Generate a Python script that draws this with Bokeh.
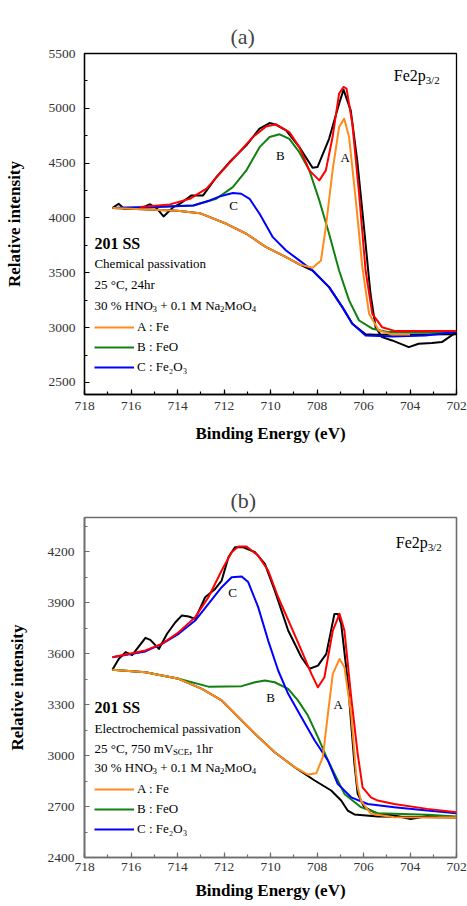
from bokeh.plotting import figure
from bokeh.models import Range1d, SingleIntervalTicker, Label, Legend, LegendItem
from bokeh.layouts import column
from bokeh.embed import file_html
from bokeh.resources import INLINE

FONT = "Liberation Serif"

# ---------------- Panel (a) data: Chemical passivation ----------------
a_raw_E = [716.8, 716.53, 716.3, 715.6, 715.18, 714.9, 714.6, 714.18, 713.89, 713.4, 712.9, 712.33,
           711.76, 711.04, 710.47, 710.04, 709.76, 709.33, 708.76, 708.19, 707.98, 707.48, 707.05,
           706.86, 706.55, 706.27, 705.98, 705.7, 705.48, 705.2, 704.77, 704.05, 703.63, 703.06,
           702.63, 702.0]
a_raw_I = [4090, 4130, 4085, 4085, 4125, 4090, 4014, 4099, 4130, 4206, 4206, 4373,
           4510, 4662, 4815, 4866, 4850, 4799, 4646, 4458, 4464, 4722, 5042,
           5170, 4981, 4525, 3916, 3309, 3004, 2913, 2883, 2822, 2853, 2859,
           2868, 2959]

a_bg_E = [716.8, 715.0, 714.0, 713.04, 711.9, 711.04, 710.19, 709.33, 708.76, 708.19, 707.48,
          706.91, 706.48, 705.91, 705.5, 702.0]
a_bg_I = [4090, 4075, 4065, 4044, 3947, 3856, 3734, 3643, 3576, 3521, 3369,
          3187, 3035, 2940, 2935, 2940]

a_fit_E = [715.6, 714.32, 713.47, 712.75, 712.18, 711.47, 710.76, 710.19, 709.76, 709.19, 708.76,
           708.33, 707.9, 707.62, 707.33, 707.05, 706.86, 706.73, 706.48, 706.19, 705.91, 705.62,
           705.2, 704.63, 703.5, 702.0]
a_fit_I = [4100, 4124, 4175, 4267, 4404, 4571, 4738, 4835, 4854, 4783, 4646,
           4434, 4343, 4434, 4738, 5134, 5195, 5180, 4860, 4221, 3521, 3126,
           3004, 2968, 2968, 2968]

a_fe_E = [716.8, 715.0, 714.0, 713.04, 711.9, 711.04, 710.19, 709.33, 708.76, 708.19, 707.83,
          707.62, 707.33, 707.05, 706.83, 706.62, 706.33, 706.05, 705.76, 705.34, 704.77, 704.0]
a_fe_I = [4090, 4075, 4065, 4044, 3947, 3856, 3734, 3643, 3576, 3546, 3613,
          3916, 4434, 4829, 4906, 4738, 4160, 3552, 3126, 2974, 2937, 2937]

a_feo_E = [716.8, 715.0, 713.32, 712.33, 711.62, 711.04, 710.47, 710.04, 709.61, 709.19, 708.76,
           708.33, 707.9, 707.48, 707.05, 706.62, 706.19, 705.62, 704.91, 702.0]
a_feo_I = [4090, 4100, 4114, 4175, 4281, 4434, 4646, 4738, 4763, 4722, 4600,
           4434, 4160, 3856, 3521, 3248, 3065, 2990, 2959, 2959]

a_fe2o3_E = [716.8, 715.0, 713.32, 712.61, 712.18, 711.62, 711.26, 710.9, 710.47, 709.9, 709.33,
             708.76, 708.19, 707.48, 706.91, 706.48, 705.91, 704.77, 703.34, 702.0]
a_fe2o3_I = [4090, 4100, 4114, 4160, 4197, 4227, 4221, 4175, 4038, 3825, 3704,
             3613, 3521, 3369, 3187, 3035, 2928, 2919, 2928, 2959]

# ---------------- Panel (b) data: Electrochemical passivation ----------------
b_raw_E = [716.8, 716.52, 716.23, 715.95, 715.38, 715.17, 714.8, 714.45, 714.09, 713.81, 713.52,
           713.24, 712.81, 712.38, 712.1, 711.81, 711.53, 711.17, 710.67, 710.24, 709.82, 709.24,
           708.67, 708.32, 707.96, 707.6, 707.25, 707.1, 706.96, 706.68, 706.39, 706.25, 705.97,
           705.39, 704.68, 703.97, 703.11, 702.8]
b_raw_I = [3504, 3569, 3608, 3590, 3692, 3680, 3627, 3716, 3784, 3824, 3818,
           3804, 3931, 3980, 4029, 4166, 4225, 4225, 4196, 4127, 3971, 3735,
           3578, 3510, 3529, 3598, 3833, 3833, 3774, 3441, 2951, 2774, 2696,
           2657, 2647, 2627, 2647, 2640]

b_bg_E = [716.8, 715.38, 713.95, 712.95, 712.1, 711.38, 710.67, 709.82, 708.96, 708.1, 707.39,
          706.96, 706.68, 706.39, 705.39, 702.0]
b_bg_I = [3504, 3490, 3451, 3392, 3324, 3225, 3128, 3019, 2931, 2853, 2794,
          2735, 2676, 2653, 2641, 2635]

b_fit_E = [716.8, 715.38, 714.67, 713.95, 713.24, 712.67, 712.1, 711.67, 711.38, 711.03, 710.53,
           710.1, 709.67, 709.1, 708.67, 708.24, 707.96, 707.68, 707.32, 707.03, 706.82, 706.53,
           706.25, 706.04, 705.68, 705.39, 704.68, 703.26, 702.0]
b_fit_I = [3578, 3618, 3657, 3725, 3814, 3931, 4088, 4196, 4229, 4229, 4176,
           4088, 3931, 3754, 3618, 3480, 3401, 3460, 3735, 3833, 3735, 3343,
           3010, 2813, 2754, 2735, 2715, 2686, 2666]

b_fe_E = [716.8, 715.38, 713.95, 712.95, 712.1, 711.38, 710.67, 709.82, 708.96, 708.39, 708.03,
          707.75, 707.53, 707.32, 707.03, 706.82, 706.53, 706.32, 706.25, 706.11, 705.68, 704.68, 702.0]
b_fe_I = [3504, 3490, 3451, 3392, 3324, 3225, 3128, 3019, 2931, 2888, 2896,
          2990, 3245, 3480, 3568, 3519, 3245, 2892, 2813, 2735, 2657, 2637, 2635]

b_feo_E = [716.8, 715.38, 713.95, 712.67, 711.24, 710.67, 710.24, 709.82, 709.24, 708.82, 708.39,
           707.96, 707.53, 706.82, 706.11, 705.39, 703.26, 702.0]
b_feo_I = [3504, 3490, 3451, 3405, 3408, 3431, 3441, 3431, 3392, 3324, 3235,
           3108, 2971, 2774, 2696, 2660, 2651, 2641]

b_fe2o3_E = [716.8, 715.38, 714.67, 713.95, 713.24, 712.67, 712.1, 711.67, 711.24, 710.96, 710.53,
             710.1, 709.67, 709.24, 708.67, 708.1, 707.53, 707.11, 706.53, 705.82, 704.68, 703.26, 702.0]
b_fe2o3_I = [3578, 3612, 3657, 3716, 3794, 3892, 3990, 4049, 4053, 4020, 3873,
             3676, 3500, 3363, 3225, 3088, 2971, 2833, 2754, 2715, 2696, 2676, 2660]

legend_labels = ["A : Fe", "B : FeO", "C : Fe\u2082O\u2083"]
x_label = "Binding Energy (eV)"
y_label = "Relative intensity"

ORANGE = "#FF8C1A"
GREEN = "#108010"
BLUE = "#0000FF"
RED = "#FF0000"

# Times-compatible advance widths (per 1000 em) for placing sub-scripted text pieces
TW = {' ': 250, '%': 833, '+': 564, '.': 250, ',': 250, ':': 278, '/': 278, '(': 333, ')': 333,
      '\u00b0': 400, 'A': 722, 'B': 667, 'C': 667, 'E': 611, 'F': 556, 'H': 722, 'M': 889,
      'N': 722, 'O': 722, 'S': 556, 'V': 722, 'a': 444, 'b': 500, 'c': 444, 'd': 500, 'e': 444,
      'g': 500, 'h': 500, 'i': 278, 'l': 278, 'm': 778, 'n': 500, 'o': 500, 'p': 500, 'r': 333,
      's': 389, 't': 278, 'v': 500, 'y': 500}


def text_width(s, size):
    return sum(TW.get(c, 500) for c in s) * size / 1000.0


class Geo:
    def __init__(self, left, right, top, bottom, x0, x1, y0, y1, page_top):
        self.left, self.right, self.top, self.bottom = left, right, top, bottom
        self.x0, self.x1, self.y0, self.y1 = x0, x1, y0, y1
        self.page_top = page_top

    def to_data(self, px, py):
        x = self.x0 + (px - self.left) / (self.right - self.left) * (self.x1 - self.x0)
        y = self.y1 - (py - self.top) / (self.bottom - self.top) * (self.y1 - self.y0)
        return x, y


def rich(p, g, px, py, parts, size, bold=False, align="left"):
    cx = px
    for txt, sub in parts:
        fs = size * 0.68 if sub else size
        dy = size * 0.25 if sub else 0.0
        lead = len(txt) - len(txt.lstrip(" "))
        cx += text_width(" " * lead, fs)
        body = txt.strip(" ")
        x, y = g.to_data(cx, py + dy)
        p.add_layout(Label(x=x, y=y, text=body, text_font=FONT, text_font_size=f"{fs:.1f}px",
                           text_font_style="bold" if bold else "normal", text_color="black",
                           text_baseline="middle", text_align=align))
        cx += text_width(txt.lstrip(" "), fs)


def make_fig(title, g, width, height, ystep, axis_color, axis_w, ylab_sd, xlab_sd, xtick_sd, ytick_sd):
    p = figure(width=width, height=height, x_range=Range1d(g.x0, g.x1), y_range=Range1d(g.y0, g.y1),
               output_backend="svg", toolbar_location=None, title=title)
    p.min_border_left = g.left
    p.min_border_right = width - g.right
    p.min_border_top = g.top - g.page_top
    p.min_border_bottom = g.page_top + height - g.bottom
    p.grid.visible = False
    p.background_fill_color = "white"
    p.border_fill_color = "white"
    p.outline_line_color = axis_color
    p.outline_line_width = axis_w
    p.xaxis.ticker = SingleIntervalTicker(interval=2, num_minor_ticks=2)
    p.yaxis.ticker = SingleIntervalTicker(interval=ystep, num_minor_ticks=2)
    for axs in (p.xaxis, p.yaxis):
        axs.axis_line_color = axis_color
        axs.axis_line_width = axis_w
        axs.major_tick_line_color = axis_color
        axs.minor_tick_line_color = axis_color
        axs.major_tick_line_width = 1.2
        axs.minor_tick_line_width = 1.2
        axs.major_tick_in = 5
        axs.major_tick_out = 0
        axs.minor_tick_in = 3
        axs.minor_tick_out = 0
        axs.major_label_text_font = FONT
        axs.major_label_text_font_size = "13.5px"
        axs.major_label_text_color = "#333333"
        axs.axis_label_text_font = FONT
        axs.axis_label_text_font_size = "17px"
        axs.axis_label_text_font_style = "bold"
        axs.axis_label_text_color = "black"
    p.xaxis.axis_label = x_label
    p.yaxis.axis_label = y_label
    p.xaxis.major_label_standoff = xtick_sd
    p.yaxis.major_label_standoff = ytick_sd
    p.xaxis.axis_label_standoff = xlab_sd
    p.yaxis.axis_label_standoff = ylab_sd
    p.title.text_font = FONT
    p.title.text_font_size = "22px"
    p.title.text_font_style = "normal"
    p.title.align = "left"
    p.title.offset = 146
    p.title.standoff = 10
    return p


def draw(p, g, bgE, bgI, rawE, rawI, feoE, feoI, fe2E, fe2I, feE, feI, fitE, fitI, loc):
    p.line(bgE, bgI, color="black", line_width=2, line_join="round")
    p.line(rawE, rawI, color="black", line_width=2, line_join="round")
    r_feo = p.line(feoE, feoI, color=GREEN, line_width=2, line_join="round")
    r_fe2 = p.line(fe2E, fe2I, color=BLUE, line_width=2, line_join="round")
    r_fe = p.line(feE, feI, color=ORANGE, line_width=2, line_join="round")
    p.line(fitE, fitI, color=RED, line_width=2, line_join="round")
    leg = Legend(items=[LegendItem(label=legend_labels[0], renderers=[r_fe]),
                        LegendItem(label=legend_labels[1], renderers=[r_feo]),
                        LegendItem(label=legend_labels[2], renderers=[r_fe2])],
                 location=loc, orientation="vertical")
    leg.background_fill_alpha = 0
    leg.border_line_alpha = 0
    leg.padding = 0
    leg.margin = 0
    leg.spacing = 0
    leg.glyph_width = 40
    leg.glyph_height = 20
    leg.label_height = 20
    leg.label_standoff = 3
    leg.label_text_font = FONT
    leg.label_text_font_size = "13px"
    leg.label_text_color = "black"
    p.add_layout(leg)


W = 467

# ---------- panel (a) ----------
ga = Geo(84, 458, 53, 394, 718, 702, 2390, 5500, 0)
pa = make_fig("(a)", ga, W, 460, 500, "black", 1.3, 22, 11, 7, 9)
draw(pa, ga, a_bg_E, a_bg_I, a_raw_E, a_raw_I, a_feo_E, a_feo_I, a_fe2o3_E, a_fe2o3_I,
     a_fe_E, a_fe_I, a_fit_E, a_fit_I, (10, 17))
rich(pa, ga, 395, 75, [("Fe2p", 0), ("3/2", 1)], 16)
rich(pa, ga, 94, 243, [("201 SS", 0)], 16, bold=True)
rich(pa, ga, 94, 263, [("Chemical passivation", 0)], 13)
rich(pa, ga, 94, 284, [("25 \u00b0C, 24hr", 0)], 13)
rich(pa, ga, 94, 305, [("30 % HNO", 0), ("3", 1), (" + 0.1 M Na", 0), ("2", 1), ("MoO", 0), ("4", 1)], 13)
rich(pa, ga, 346, 157, [("A", 0)], 13, align="center")
rich(pa, ga, 281, 155, [("B", 0)], 13, align="center")
rich(pa, ga, 234, 205, [("C", 0)], 13, align="center")

# ---------- panel (b) ----------
gb = Geo(82, 456, 517, 857, 718, 702, 2400, 4400, 460)
pb = make_fig("(b)", gb, W, 446, 300, "#6e6e6e", 1.6, 18, 7, 5, 10)
draw(pb, gb, b_bg_E, b_bg_I, b_raw_E, b_raw_I, b_feo_E, b_feo_I, b_fe2o3_E, b_fe2o3_I,
     b_fe_E, b_fe_I, b_fit_E, b_fit_I, (10, 18))
rich(pb, gb, 395, 542, [("Fe2p", 0), ("3/2", 1)], 16)
rich(pb, gb, 92, 707, [("201 SS", 0)], 16, bold=True)
rich(pb, gb, 92, 728, [("Electrochemical passivation", 0)], 13)
rich(pb, gb, 92, 748, [("25 \u00b0C, 750 mV", 0), ("SCE", 1), (", 1hr", 0)], 13)
rich(pb, gb, 92, 767, [("30 % HNO", 0), ("3", 1), (" + 0.1 M Na", 0), ("2", 1), ("MoO", 0), ("4", 1)], 13)
rich(pb, gb, 231, 592, [("C", 0)], 13, align="center")
rich(pb, gb, 269, 697, [("B", 0)], 13, align="center")
rich(pb, gb, 337, 704, [("A", 0)], 13, align="center")

layout = column(pa, pb, spacing=0)
open("out.html", "w").write(file_html(layout, INLINE))
